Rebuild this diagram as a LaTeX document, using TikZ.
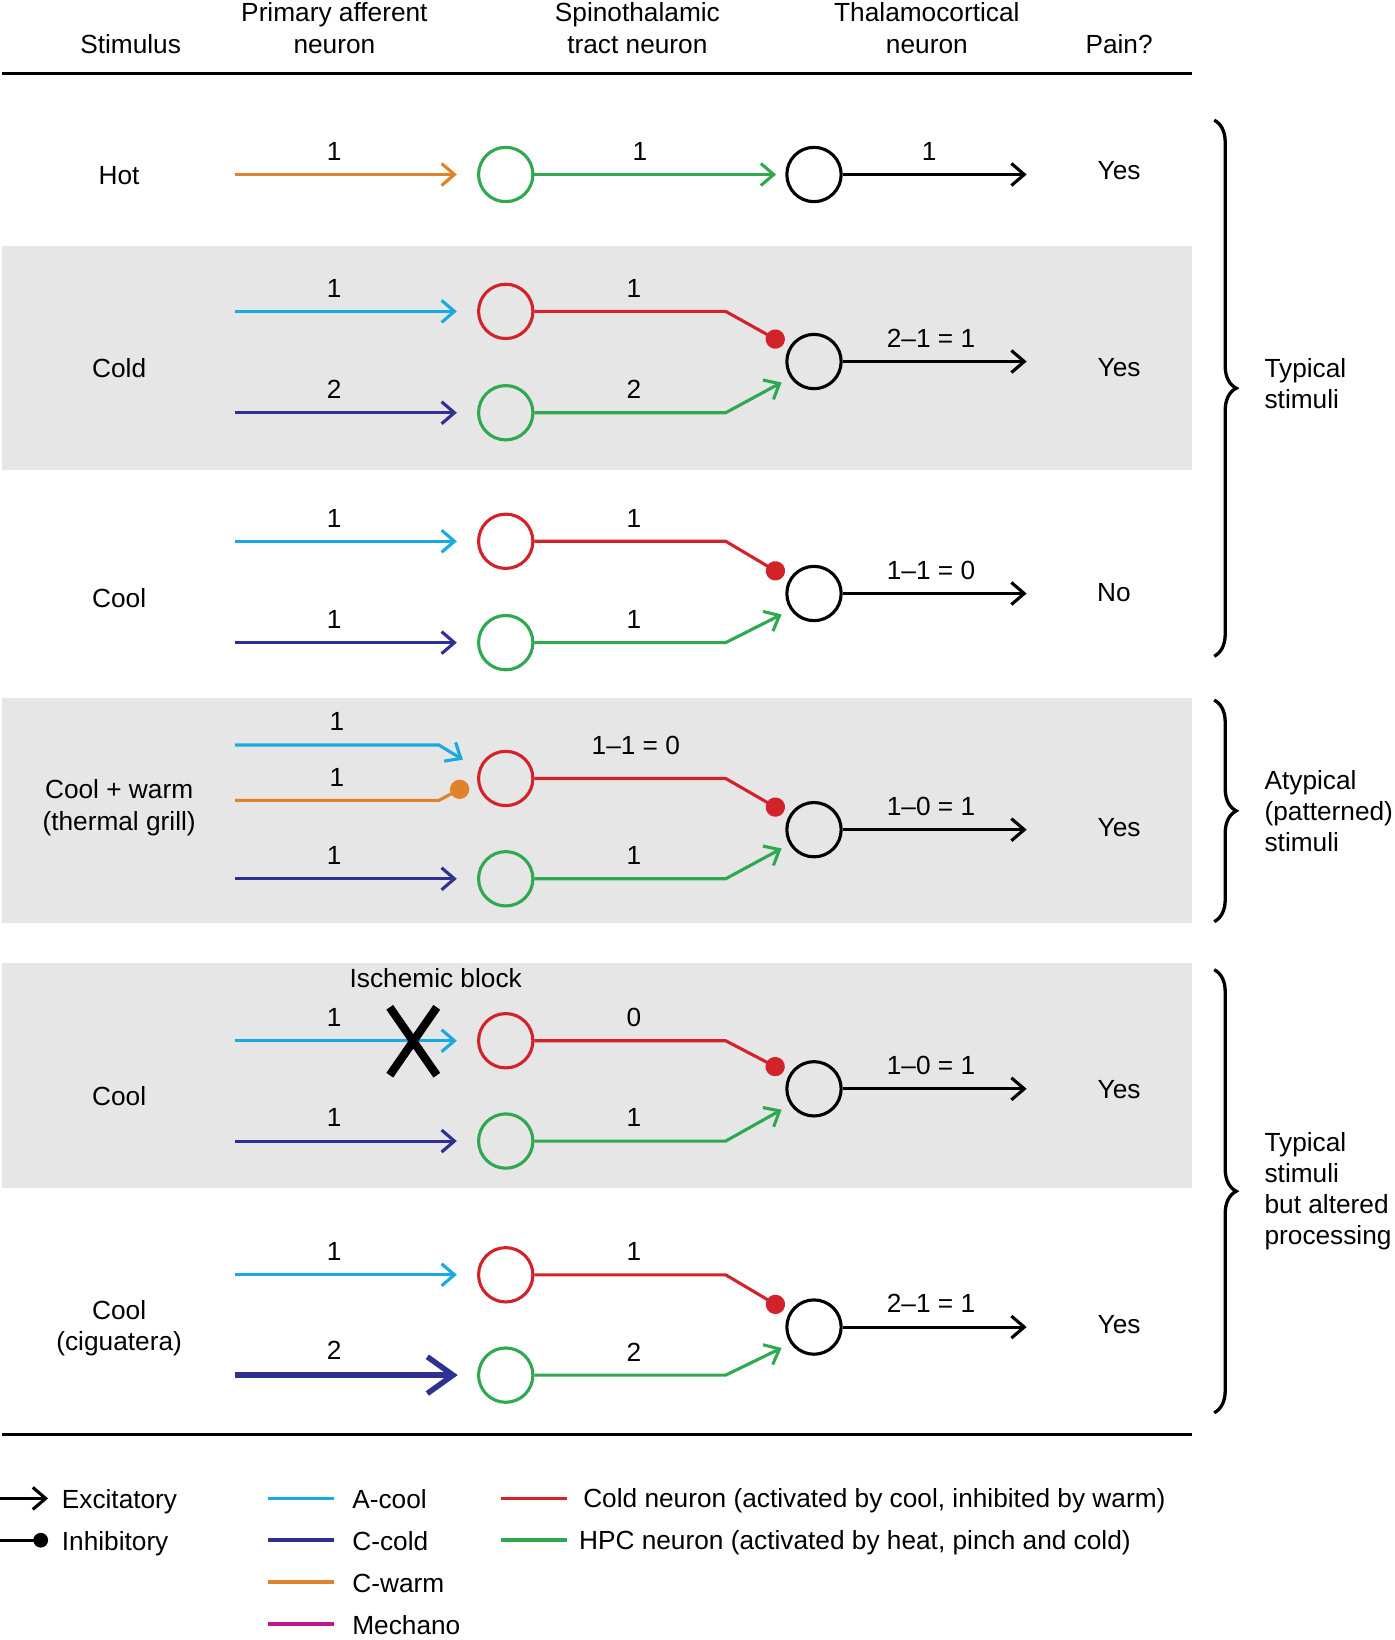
\documentclass[tikz,border=0pt]{standalone}
\usepackage{fontspec}
\setmainfont{Liberation Sans}
\usetikzlibrary{arrows.meta,calc,decorations.pathreplacing}

\definecolor{acool}{HTML}{1BA9E1}
\definecolor{ccold}{HTML}{2E3192}
\definecolor{cwarm}{HTML}{E0822A}
\definecolor{mechano}{HTML}{C2168D}
\definecolor{coldn}{HTML}{D2232A}
\definecolor{hpcn}{HTML}{2FA84F}
\definecolor{band}{HTML}{E6E6E6}

\tikzset{
  every node/.style={font=\fontsize{14.3}{17}\selectfont},
  nrn/.style={circle, draw, line width=1.7pt, minimum size=1.04cm, inner sep=0pt},
  exc/.style={line width=1.7pt, -{Straight Barb[length=7pt,width=12pt]}},
  inh/.style={line width=1.7pt, -{Circle[length=10.5pt]}},
  num/.style={above=3.5pt, text=black},
  aff/.style={exc, shorten >=11pt},
  brc/.style={line width=1.8pt, decorate, decoration={brace, amplitude=12pt}},
  leg/.style={line width=2pt},
}

\begin{document}
\begin{tikzpicture}[x=0.02cm, y=-0.02cm]
\useasboundingbox (0,0) rectangle (1335,1569.5);

% shaded rows
\fill[band] (2,235) rectangle (1141,450);
\fill[band] (2,668) rectangle (1141,883);
\fill[band] (2,922) rectangle (1141,1137);

% rules
\draw[line width=1.7pt] (2,70) -- (1141,70);
\draw[line width=1.7pt] (2,1373) -- (1141,1373);

% header
\node (hstim) at (125,42) {Stimulus};
\node[align=center] (haff) at (320,27) {Primary afferent\\neuron};
\node[align=center] (hspt) at (610,27) {Spinothalamic\\tract neuron};
\node[align=center] (hthc) at (887,27) {Thalamocortical\\neuron};
\node (hpain) at (1071,42) {Pain?};

% hot
\node (st1) at (114,168) {Hot};
\coordinate (a1) at (225,167);
\node[nrn, hpcn] (h1) at (484,167) {};
\node[nrn] (t1) at (779,167) {};
\draw[aff, cwarm] (a1) -- node[num, pos=0.41] {1} (h1);
\draw[exc, hpcn, shorten >=5pt] (h1) -- node[num, pos=0.42] {1} (t1);
\draw[exc] (t1.east) -- node[num, pos=0.47] {1} ++(176,0);
\node (p1) at (1071,163) {Yes};

% cold
\node (st2) at (114,352) {Cold};
\coordinate (a2) at (225,298);
\coordinate (b2) at (225,395);
\node[nrn, coldn] (c2) at (484,298) {};
\node[nrn, hpcn] (h2) at (484,395) {};
\node[nrn] (t2) at (779,346) {};
\draw[aff, acool] (a2) -- node[num, pos=0.41] {1} (c2);
\draw[aff, ccold] (b2) -- node[num, pos=0.41] {2} (h2);
\draw[inh, coldn] (c2.east) -- node[num, pos=0.52] {1} ++(183,0) -- ($(t2)+(-29,-17)$);
\draw[exc, hpcn] (h2.east) -- node[num, pos=0.52] {2} ++(183,0) -- ($(t2)+(-31,20)$);
\draw[exc] (t2.east) -- node[num, pos=0.48] {2--1 = 1} ++(176,0);
\node (p2) at (1071,352) {Yes};

% cool
\node (st3) at (114,572) {Cool};
\coordinate (a3) at (225,518);
\coordinate (b3) at (225,615);
\node[nrn, coldn] (c3) at (484,518) {};
\node[nrn, hpcn] (h3) at (484,615) {};
\node[nrn] (t3) at (779,568) {};
\draw[aff, acool] (a3) -- node[num, pos=0.41] {1} (c3);
\draw[aff, ccold] (b3) -- node[num, pos=0.41] {1} (h3);
\draw[inh, coldn] (c3.east) -- node[num, pos=0.52] {1} ++(183,0) -- ($(t3)+(-29,-17)$);
\draw[exc, hpcn] (h3.east) -- node[num, pos=0.52] {1} ++(183,0) -- ($(t3)+(-31,20)$);
\draw[exc] (t3.east) -- node[num, pos=0.48] {1--1 = 0} ++(176,0);
\node (p3) at (1066,567) {No};

% thermal grill
\node[align=center] (st4) at (114,773) {Cool + warm\\(thermal grill)};
\coordinate (a4) at (225,713);
\coordinate (w4) at (225,766);
\coordinate (b4) at (225,841);
\node[nrn, coldn] (c4) at (484,745) {};
\node[nrn, hpcn] (h4) at (484,841) {};
\node[nrn] (t4) at (779,794) {};
\draw[exc, acool] (a4) -- node[num] {1} ++(195,0) -- ($(c4)+(-41,-18)$);
\draw[inh, cwarm] (w4) -- node[num] {1} ++(195,0) -- ($(c4)+(-36,6)$);
\draw[aff, ccold] (b4) -- node[num, pos=0.41] {1} (h4);
\draw[inh, coldn] (c4.east) -- node[num, pos=0.53, above=5pt] {1--1 = 0} ++(183,0) -- ($(t4)+(-29,-17)$);
\draw[exc, hpcn] (h4.east) -- node[num, pos=0.52] {1} ++(183,0) -- ($(t4)+(-31,18)$);
\draw[exc] (t4.east) -- node[num, pos=0.48] {1--0 = 1} ++(176,0);
\node (p4) at (1071,792) {Yes};

% ischemic block
\node (st5) at (114,1049) {Cool};
\node (isch) at (417,936) {Ischemic block};
\coordinate (a5) at (225,996);
\coordinate (b5) at (225,1092);
\node[nrn, coldn] (c5) at (484,996) {};
\node[nrn, hpcn] (h5) at (484,1092) {};
\node[nrn] (t5) at (779,1042) {};
\draw[aff, acool] (a5) -- node[num, pos=0.41] {1} (c5);
\draw[line width=4.5pt] (373,964) -- (418,1029) (418,964) -- (373,1029);
\draw[aff, ccold] (b5) -- node[num, pos=0.41] {1} (h5);
\draw[inh, coldn] (c5.east) -- node[num, pos=0.52] {0} ++(183,0) -- ($(t5)+(-29,-17)$);
\draw[exc, hpcn] (h5.east) -- node[num, pos=0.52] {1} ++(183,0) -- ($(t5)+(-31,20)$);
\draw[exc] (t5.east) -- node[num, pos=0.48] {1--0 = 1} ++(176,0);
\node (p5) at (1071,1043) {Yes};

% ciguatera
\node[align=center] (st6) at (114,1271) {Cool\\(ciguatera)};
\coordinate (a6) at (225,1220);
\coordinate (b6) at (225,1316);
\node[nrn, coldn] (c6) at (484,1220) {};
\node[nrn, hpcn] (h6) at (484,1316) {};
\node[nrn] (t6) at (779,1270) {};
\draw[aff, acool] (a6) -- node[num, pos=0.41] {1} (c6);
\draw[ccold, line width=3pt, -{Straight Barb[length=14pt,width=20pt]}, shorten >=10.5pt] (b6) -- node[num, pos=0.41] {2} (h6);
\draw[inh, coldn] (c6.east) -- node[num, pos=0.52] {1} ++(183,0) -- ($(t6)+(-29,-17)$);
\draw[exc, hpcn] (h6.east) -- node[num, pos=0.52] {2} ++(183,0) -- ($(t6)+(-31,20)$);
\draw[exc] (t6.east) -- node[num, pos=0.48] {2--1 = 1} ++(176,0);
\node (p6) at (1071,1268) {Yes};

% groups
\draw[brc] (1162,115) -- (1162,628);
\draw[brc] (1162,670) -- (1162,882);
\draw[brc] (1162,928) -- (1162,1352);
\node[anchor=west, align=left] (g1) at (1204,367) {Typical\\stimuli};
\node[anchor=west, align=left] (g2) at (1204,776) {Atypical\\(patterned)\\stimuli};
\node[anchor=west, align=left] (g3) at (1204,1140) {Typical\\stimuli\\but altered\\processing};

% legend
\coordinate (lx) at (0,1434);
\coordinate (li) at (0,1474);
\node[anchor=west] (lexc) at (53,1437) {Excitatory};
\node[anchor=west] (linh) at (53,1477) {Inhibitory};
\draw[exc] (lx) -- ++(46,0);
\draw[line width=1.7pt, -{Circle[length=8pt]}] (li) -- ++(46,0);
\draw[leg, acool] (256,1434) -- (320,1434);
\draw[leg, ccold] (256,1474) -- (320,1474);
\draw[leg, cwarm] (256,1514) -- (320,1514);
\draw[leg, mechano] (256,1554) -- (320,1554);
\node[anchor=west] (lac) at (331,1435) {A-cool};
\node[anchor=west] (lcc) at (331,1475) {C-cold};
\node[anchor=west] (lcw) at (331,1515) {C-warm};
\node[anchor=west] (lme) at (331,1555) {Mechano};
\draw[leg, coldn] (479,1434) -- (543,1434);
\draw[leg, hpcn] (479,1474) -- (543,1474);
\node[anchor=west] (lcn) at (552,1436) {Cold neuron (activated by cool, inhibited by warm)};
\node[anchor=west] (lhn) at (548,1476) {HPC neuron (activated by heat, pinch and cold)};
\end{tikzpicture}
\end{document}
